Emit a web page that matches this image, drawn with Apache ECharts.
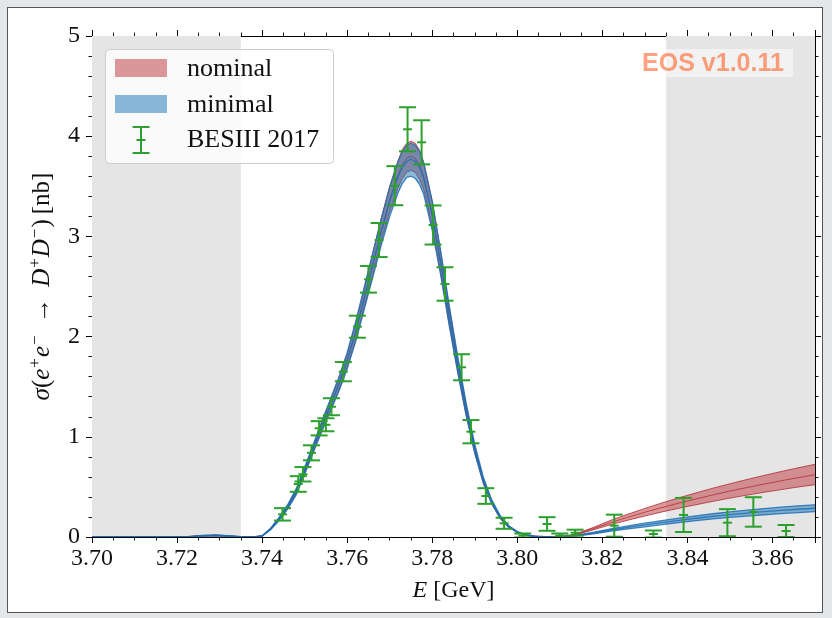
<!DOCTYPE html>
<html>
<head>
<meta charset="utf-8">
<script src="https://cdn.jsdelivr.net/npm/echarts@6/dist/echarts.min.js"></script>
<style>
  html, body { margin: 0; padding: 0; background: #e3e7ea; }
  #frame { position: absolute; left: 7px; top: 7px; width: 814px; height: 604px; background: #ffffff; border: 1px solid #555555; }
  #chart { position: absolute; left: 0; top: 0; width: 832px; height: 618px; }
</style>
</head>
<body>
<div id="frame"></div>
<div id="chart"></div>
<script>
// Energy grid (GeV) on which the predicted cross sections are tabulated
const energy = [
  3.700, 3.705, 3.710, 3.715, 3.720, 3.723, 3.726, 3.729, 3.732, 3.735,
  3.738, 3.740, 3.742, 3.744, 3.746, 3.748, 3.750, 3.752, 3.754, 3.756,
  3.758, 3.760, 3.762, 3.764, 3.766, 3.768, 3.770, 3.772, 3.773, 3.774,
  3.775, 3.776, 3.777, 3.778, 3.780, 3.782, 3.784, 3.786, 3.788, 3.790,
  3.792, 3.794, 3.796, 3.798, 3.800, 3.802, 3.804, 3.806, 3.808, 3.810,
  3.812, 3.814, 3.818, 3.822, 3.826, 3.830, 3.834, 3.838, 3.842, 3.846,
  3.850, 3.854, 3.858, 3.862, 3.866, 3.870
];

// "nominal" model: median and band edges (nb)
const nominalMid = [
  0, 0, 0, 0, 0, 0.004, 0.012, 0.016, 0.010, 0.002,
  0, 0.01, 0.08, 0.18, 0.30, 0.45, 0.66, 0.88, 1.10, 1.31,
  1.52, 1.76, 2.05, 2.38, 2.72, 3.06, 3.37, 3.62, 3.72, 3.78,
  3.80, 3.78, 3.71, 3.60, 3.22, 2.73, 2.20, 1.71, 1.26, 0.87,
  0.56, 0.34, 0.19, 0.10, 0.05, 0.02, 0.008, 0.003, 0.002, 0.004,
  0.012, 0.03, 0.085, 0.145, 0.197, 0.247, 0.294, 0.338, 0.380, 0.420,
  0.458, 0.494, 0.528, 0.561, 0.592, 0.622
];
const nominalLow = [
  0, 0, 0, 0, 0, 0.002, 0.009, 0.012, 0.007, 0.001,
  0, 0.008, 0.075, 0.17, 0.285, 0.43, 0.635, 0.85, 1.06, 1.26,
  1.46, 1.69, 1.97, 2.29, 2.62, 2.95, 3.25, 3.49, 3.58, 3.64,
  3.66, 3.64, 3.57, 3.47, 3.10, 2.63, 2.12, 1.65, 1.21, 0.84,
  0.54, 0.33, 0.18, 0.095, 0.047, 0.018, 0.006, 0.002, 0.001, 0.002,
  0.009, 0.025, 0.073, 0.124, 0.168, 0.210, 0.250, 0.287, 0.322, 0.356,
  0.388, 0.418, 0.446, 0.473, 0.499, 0.522
];
const nominalHigh = [
  0, 0, 0, 0, 0.002, 0.006, 0.015, 0.020, 0.013, 0.004,
  0.002, 0.012, 0.085, 0.19, 0.315, 0.47, 0.685, 0.91, 1.14, 1.36,
  1.58, 1.83, 2.13, 2.47, 2.83, 3.18, 3.50, 3.76, 3.87, 3.93,
  3.95, 3.93, 3.86, 3.74, 3.35, 2.84, 2.29, 1.78, 1.31, 0.90,
  0.58, 0.35, 0.20, 0.105, 0.053, 0.022, 0.010, 0.005, 0.004, 0.006,
  0.015, 0.035, 0.097, 0.167, 0.227, 0.285, 0.340, 0.391, 0.440, 0.487,
  0.531, 0.574, 0.614, 0.653, 0.690, 0.725
];

// "minimal" model: median and band edges (nb)
const minimalMid = [
  0, 0, 0, 0, 0, 0.004, 0.012, 0.016, 0.010, 0.002,
  0, 0.01, 0.08, 0.18, 0.30, 0.45, 0.66, 0.88, 1.10, 1.31,
  1.52, 1.76, 2.05, 2.38, 2.71, 3.04, 3.35, 3.60, 3.69, 3.75,
  3.77, 3.75, 3.69, 3.58, 3.21, 2.73, 2.21, 1.72, 1.27, 0.88,
  0.57, 0.35, 0.20, 0.105, 0.05, 0.02, 0.007, 0.003, 0.002, 0.004,
  0.008, 0.015, 0.040, 0.070, 0.096, 0.120, 0.144, 0.166, 0.187, 0.206,
  0.223, 0.239, 0.253, 0.266, 0.277, 0.287
];
const minimalLow = [
  0, 0, 0, 0, 0, 0.002, 0.009, 0.012, 0.007, 0.001,
  0, 0.007, 0.072, 0.165, 0.278, 0.42, 0.625, 0.84, 1.05, 1.25,
  1.45, 1.68, 1.95, 2.27, 2.59, 2.91, 3.20, 3.44, 3.53, 3.59,
  3.60, 3.58, 3.52, 3.42, 3.06, 2.61, 2.11, 1.64, 1.21, 0.835,
  0.54, 0.33, 0.188, 0.098, 0.046, 0.017, 0.005, 0.002, 0.001, 0.002,
  0.005, 0.011, 0.032, 0.058, 0.081, 0.102, 0.124, 0.144, 0.163, 0.180,
  0.195, 0.209, 0.222, 0.234, 0.244, 0.253
];
const minimalHigh = [
  0, 0, 0, 0, 0.002, 0.006, 0.015, 0.020, 0.013, 0.004,
  0.002, 0.013, 0.088, 0.195, 0.322, 0.48, 0.695, 0.92, 1.15, 1.37,
  1.59, 1.84, 2.15, 2.49, 2.83, 3.17, 3.49, 3.75, 3.85, 3.91,
  3.93, 3.91, 3.85, 3.73, 3.35, 2.85, 2.31, 1.80, 1.33, 0.925,
  0.60, 0.37, 0.212, 0.112, 0.055, 0.024, 0.009, 0.005, 0.004, 0.006,
  0.011, 0.019, 0.048, 0.082, 0.111, 0.138, 0.164, 0.188, 0.211, 0.232,
  0.251, 0.269, 0.284, 0.298, 0.310, 0.321
];

// BESIII 2017 measurements: energy (GeV), cross section (nb), uncertainty (nb)
const besiiiEnergy = [
  3.7448, 3.7485, 3.7496, 3.7516, 3.7534, 3.7550, 3.7563, 3.7591, 3.7624, 3.7650,
  3.7675, 3.7712, 3.7742, 3.7775, 3.7802, 3.7830, 3.7869, 3.7891, 3.7926, 3.7969,
  3.8013, 3.8070, 3.8100, 3.8136, 3.8228, 3.8320, 3.8391, 3.8494, 3.8555, 3.8632
];
const besiiiSigma = [
  0.226, 0.529, 0.626, 0.840, 1.085, 1.120, 1.300, 1.650, 2.099, 2.572,
  2.964, 3.506, 4.069, 3.939, 3.114, 2.525, 1.694, 1.051, 0.409, 0.137,
  0.015, 0.130, 0.015, 0.043, 0.113, 0.030, 0.220, 0.143, 0.250, 0.060
];
const besiiiError = [
  0.062, 0.078, 0.072, 0.075, 0.071, 0.065, 0.085, 0.096, 0.110, 0.133,
  0.170, 0.195, 0.220, 0.220, 0.195, 0.167, 0.130, 0.116, 0.078, 0.055,
  0.020, 0.068, 0.020, 0.030, 0.110, 0.035, 0.170, 0.135, 0.147, 0.060
];

// Energy windows excluded from the fit (shaded)
const excludedRanges = [[3.700, 3.735], [3.835, 3.870]];

// Axis ranges and tick spacing
const xRange = [3.70, 3.87];
const yRange = [0, 5];
const xStep = 0.02;
const yStep = 1;

const serifFont = '"Liberation Serif", "Times New Roman", serif';
const nominalFill = 'rgba(196, 78, 82, 0.58)';
const nominalEdge = 'rgba(178, 52, 58, 0.85)';
const minimalFill = 'rgba(31, 119, 180, 0.52)';
const minimalEdge = 'rgba(31, 110, 180, 0.85)';
const dataColor = '#2ca02c';

// A model band: filled region between the edges, outlined, with its median line
function bandSeries(label, lo, hi, mid, fill, edge, lw, z) {
  return {
    name: label, type: 'custom', z: z, silent: true, clip: true,
    data: [[xRange[0], 0]],
    renderItem: function (params, api) {
      const upper = energy.map((e, i) => api.coord([e, hi[i]]));
      const lower = energy.map((e, i) => api.coord([e, lo[i]]));
      const median = energy.map((e, i) => api.coord([e, mid[i]]));
      const outline = upper.concat(lower.slice().reverse());
      const lineStyle = { stroke: edge, lineWidth: lw, fill: null, lineJoin: 'round' };
      return {
        type: 'group',
        children: [
          { type: 'polygon', shape: { points: outline }, style: { fill: fill, stroke: null } },
          { type: 'polyline', shape: { points: upper }, style: lineStyle },
          { type: 'polyline', shape: { points: lower }, style: lineStyle },
          { type: 'polyline', shape: { points: median }, style: lineStyle }
        ]
      };
    }
  };
}

const axisLineStyle = { color: '#000', width: 1 };

function xAxisDef(pos, showLabels) {
  return {
    type: 'value', position: pos, min: xRange[0], max: xRange[1], interval: xStep,
    axisLine: { show: true, onZero: false, lineStyle: axisLineStyle },
    axisTick: { show: true, length: 6, lineStyle: { color: '#000', width: 1 } },
    minorTick: { show: true, splitNumber: 4, length: 3.5, lineStyle: { color: '#000', width: 0.9 } },
    splitLine: { show: false },
    axisLabel: {
      show: showLabels, margin: 10, color: '#111', fontFamily: serifFont, fontSize: 24,
      showMaxLabel: false,
      formatter: v => v.toFixed(2)
    }
  };
}
function yAxisDef(pos, showLabels) {
  return {
    type: 'value', position: pos, min: yRange[0], max: yRange[1], interval: yStep,
    axisLine: { show: true, onZero: false, lineStyle: axisLineStyle },
    axisTick: { show: true, length: 6, lineStyle: { color: '#000', width: 1 } },
    minorTick: { show: true, splitNumber: 5, length: 3.5, lineStyle: { color: '#000', width: 0.9 } },
    splitLine: { show: false },
    axisLabel: { show: showLabels, margin: 12, color: '#111', fontFamily: serifFont, fontSize: 24 }
  };
}

const xAxes = [xAxisDef('bottom', true), xAxisDef('top', false)];
xAxes[0].name = '{i|E} [GeV]';
xAxes[0].nameLocation = 'middle';
xAxes[0].nameGap = 42;
xAxes[0].nameTextStyle = {
  color: '#111', fontFamily: serifFont, fontSize: 24,
  rich: { i: { fontStyle: 'italic', fontFamily: serifFont, fontSize: 24, color: '#111' } }
};

const yAxes = [yAxisDef('left', true), yAxisDef('right', false)];
yAxes[0].name = '{i|σ}({i|e}{s|+}{i|e}{s|−}\u2009 → \u2009{i|D}{s|+}{i|D}{s|−})\u2009[nb]';
yAxes[0].nameLocation = 'middle';
yAxes[0].nameGap = 34;
yAxes[0].nameTextStyle = {
  color: '#111', fontFamily: serifFont, fontSize: 25, lineHeight: 30,
  rich: {
    i: { fontStyle: 'italic', fontFamily: serifFont, fontSize: 25, lineHeight: 30, color: '#111' },
    s: { fontFamily: serifFont, fontSize: 17, lineHeight: 18, verticalAlign: 'top', color: '#111', padding: [0, 1, 0, 1] }
  }
};

const series = [
  {
    name: 'excluded', type: 'line', data: [], z: 1, silent: true,
    markArea: {
      silent: true,
      itemStyle: { color: '#e5e5e5' },
      data: excludedRanges.map(r => [{ xAxis: r[0], yAxis: yRange[0] }, { xAxis: r[1], yAxis: yRange[1] }])
    }
  },
  bandSeries('nominal', nominalLow, nominalHigh, nominalMid, nominalFill, nominalEdge, 1, 3),
  bandSeries('minimal', minimalLow, minimalHigh, minimalMid, minimalFill, minimalEdge, 1.3, 4),
  {
    name: 'BESIII 2017', type: 'custom', z: 6, clip: true, silent: true,
    data: besiiiEnergy.map((e, i) => [e, besiiiSigma[i], besiiiError[i]]),
    encode: { x: 0, y: 1 },
    renderItem: function (params, api) {
      const e = api.value(0), s = api.value(1), d = api.value(2);
      const top = api.coord([e, s + d]);
      const bot = api.coord([e, s - d]);
      const mid = api.coord([e, s]);
      const st = { stroke: dataColor, lineWidth: 2, fill: null };
      const cap = 8.5, tick = 4.5;
      return {
        type: 'group',
        children: [
          { type: 'line', shape: { x1: top[0], y1: top[1], x2: bot[0], y2: bot[1] }, style: st },
          { type: 'line', shape: { x1: top[0] - cap, y1: top[1], x2: top[0] + cap, y2: top[1] }, style: st },
          { type: 'line', shape: { x1: bot[0] - cap, y1: bot[1], x2: bot[0] + cap, y2: bot[1] }, style: st },
          { type: 'line', shape: { x1: mid[0] - tick, y1: mid[1], x2: mid[0] + tick, y2: mid[1] }, style: st }
        ]
      };
    }
  }
];

// Legend box and the version stamp
const legendFont = '26px ' + serifFont;
const graphics = [
  { type: 'rect', z: 50, shape: { x: 105.5, y: 49.5, width: 228, height: 114, r: 4 },
    style: { fill: 'rgba(255,255,255,0.8)', stroke: '#cccccc', lineWidth: 1 } },
  { type: 'rect', z: 51, shape: { x: 115, y: 59, width: 52, height: 18 }, style: { fill: nominalFill } },
  { type: 'rect', z: 51, shape: { x: 115, y: 95, width: 52, height: 18 }, style: { fill: minimalFill } },
  { type: 'line', z: 51, shape: { x1: 141, y1: 127, x2: 141, y2: 153 }, style: { stroke: dataColor, lineWidth: 2 } },
  { type: 'line', z: 51, shape: { x1: 132.5, y1: 127, x2: 149.5, y2: 127 }, style: { stroke: dataColor, lineWidth: 2 } },
  { type: 'line', z: 51, shape: { x1: 132.5, y1: 153, x2: 149.5, y2: 153 }, style: { stroke: dataColor, lineWidth: 2 } },
  { type: 'line', z: 51, shape: { x1: 136.5, y1: 140, x2: 145.5, y2: 140 }, style: { stroke: dataColor, lineWidth: 2 } },
  { type: 'text', z: 51, style: { text: 'nominal', x: 187, y: 69, font: legendFont, fill: '#111', verticalAlign: 'middle' } },
  { type: 'text', z: 51, style: { text: 'minimal', x: 187, y: 105, font: legendFont, fill: '#111', verticalAlign: 'middle' } },
  { type: 'text', z: 51, style: { text: 'BESIII 2017', x: 187, y: 140, font: legendFont, fill: '#111', verticalAlign: 'middle' } },
  { type: 'rect', z: 50, shape: { x: 633, y: 49, width: 160, height: 28 }, style: { fill: 'rgba(255,255,255,0.5)' } },
  { type: 'text', z: 51, style: { text: 'EOS v1.0.11', x: 713, y: 64, font: 'bold 25px "Liberation Sans", Arial, sans-serif',
    fill: 'rgba(255,69,0,0.5)', align: 'center', verticalAlign: 'middle' } }
];

const chart = echarts.init(document.getElementById('chart'), null, { renderer: 'canvas' });
chart.setOption({
  animation: false,
  backgroundColor: 'transparent',
  grid: { left: 92, right: 17, top: 36, bottom: 81, containLabel: false, outerBoundsMode: 'none' },
  xAxis: xAxes,
  yAxis: yAxes,
  series: series,
  graphic: graphics
});
</script>
</body>
</html>
